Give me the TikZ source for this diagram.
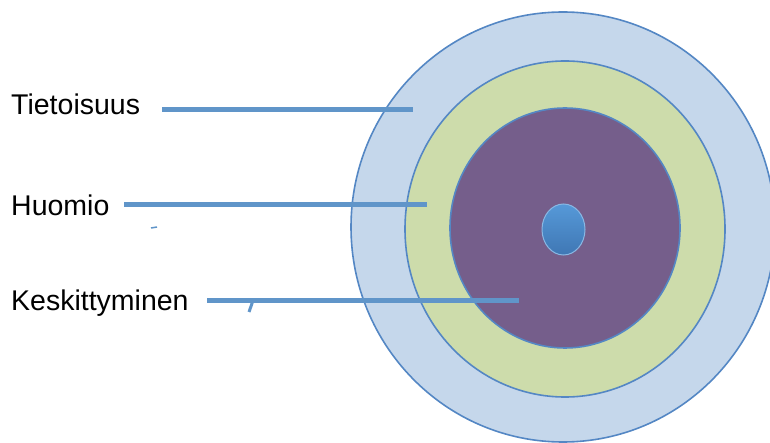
\documentclass[tikz,border=0pt]{standalone}
\usepackage{fontspec}
\setmainfont{Liberation Sans}
\definecolor{ringEdge}{RGB}{84, 135, 196}
\definecolor{outerBlue}{RGB}{197, 215, 235}
\definecolor{midGreen}{RGB}{205, 220, 171}
\definecolor{innerPurple}{RGB}{117, 94, 139}
\definecolor{dotTop}{RGB}{86, 153, 216}
\definecolor{dotBottom}{RGB}{63, 119, 180}
\definecolor{lineBlue}{RGB}{96, 149, 201}
\tikzset{
  ring/.style={draw=ringEdge, line width=1.6pt},
  pointer/.style={draw=lineBlue, line width=4.5pt},
  lbl/.style={anchor=base west, inner sep=0pt, font=\fontsize{28.5}{34}\selectfont}
}

\begin{document}
\begin{tikzpicture}[x=1pt, y=-1pt]
  \useasboundingbox (0,0) rectangle (770,443);
  \clip (0,0) rectangle (770,443);
  % rings, outside in
  \draw[ring, fill=outerBlue] (563,227) ellipse [x radius=212, y radius=215];
  \draw[ring, fill=midGreen] (565,229) ellipse [x radius=160, y radius=168];
  \draw[ring, fill=innerPurple] (565,228) ellipse [x radius=115, y radius=120];
  % centre dot
  \shade[top color=dotTop, bottom color=dotBottom, draw=dotTop!70!white, line width=1pt]
    (563.5,229.5) ellipse [x radius=21.5, y radius=25.5];
  % labels
  \node[lbl] (tieto) at (11,115) {Tietoisuus};
  \node[lbl] (huomio) at (11,216) {Huomio};
  \node[lbl] (keski) at (11,310) {Keskittyminen};
  % pointer ends
  \coordinate (tietoA) at (162,109.5);
  \coordinate (tietoB) at (413,109.5);
  \coordinate (huomioA) at (124,204.5);
  \coordinate (huomioB) at (427,204.5);
  \coordinate (keskiA) at (207,300.5);
  \coordinate (keskiB) at (519,300.5);
  \draw[pointer] (tietoA) -- (tietoB);
  \draw[pointer] (huomioA) -- (huomioB);
  \draw[pointer] (keskiA) -- (keskiB);
  % stray marks
  \draw[lineBlue, line width=1.5pt] (151,228) -- (157,227);
  \draw[lineBlue, line width=3pt] (252.5,302) -- (249,312);
\end{tikzpicture}
\end{document}
